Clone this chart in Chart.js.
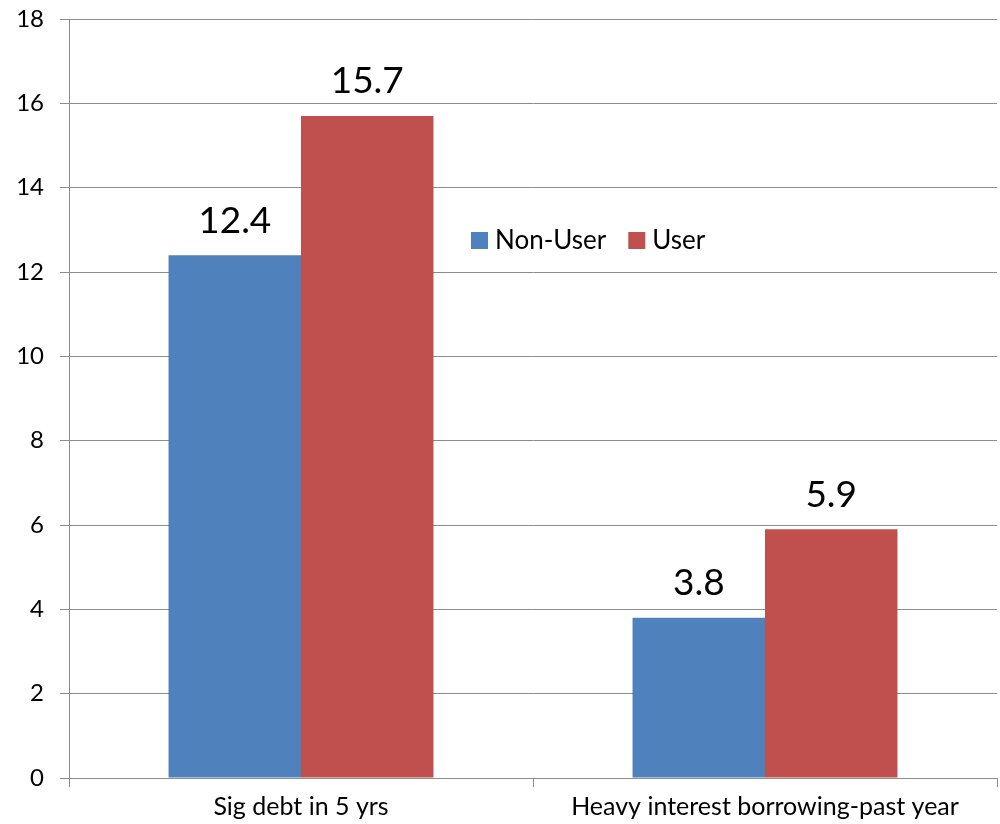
<!DOCTYPE html>
<html>
<head>
<meta charset="utf-8">
<script src="https://cdn.jsdelivr.net/npm/chart.js@4.4.1/dist/chart.umd.min.js"></script>
<style>
  html, body { margin: 0; padding: 0; background: #fff; }
  #wrap { width: 1000px; height: 824px; position: relative; }
</style>
</head>
<body>
<div id="wrap"><canvas id="c" width="1000" height="824"></canvas></div>
<script>
const categories = ['Sig debt in 5 yrs', 'Heavy interest borrowing-past year'];
const seriesNames = ['Non-User', 'User'];
const nonUserValues = [12.4, 3.8];
const userValues = [15.7, 5.9];
const seriesColors = ['#4F81BD', '#C0504D'];

const FONT = 'Lato, "Open Sans", sans-serif';
const GRID = '#8c8c8c';

// Value labels above each bar
const valueLabels = {
  id: 'valueLabels',
  afterDatasetsDraw(chart) {
    const ctx = chart.ctx;
    ctx.save();
    ctx.fillStyle = '#000';
    ctx.font = '37px ' + FONT;
    ctx.textAlign = 'center';
    ctx.textBaseline = 'bottom';
    chart.data.datasets.forEach((ds, i) => {
      chart.getDatasetMeta(i).data.forEach((bar, j) => {
        ctx.fillText(ds.data[j].toFixed(1), bar.x, bar.y - 16);
      });
    });
    ctx.restore();
  }
};

// Legend drawn inside the plot area
const innerLegend = {
  id: 'innerLegend',
  afterDraw(chart) {
    const ctx = chart.ctx;
    const a = chart.chartArea;
    let x = a.left + 402;
    const y = a.top + 221;
    ctx.save();
    ctx.font = '26px ' + FONT;
    ctx.textBaseline = 'middle';
    ctx.textAlign = 'left';
    chart.data.datasets.forEach(ds => {
      ctx.fillStyle = ds.backgroundColor;
      ctx.fillRect(x, y - 8, 17, 17);
      ctx.fillStyle = '#000';
      ctx.fillText(ds.label, x + 24, y + 1);
      x += 24 + ctx.measureText(ds.label).width + 22;
    });
    ctx.restore();
  }
};

new Chart(document.getElementById('c'), {
  type: 'bar',
  data: {
    labels: categories,
    datasets: [
      { label: seriesNames[0], data: nonUserValues, backgroundColor: seriesColors[0] },
      { label: seriesNames[1], data: userValues, backgroundColor: seriesColors[1] }
    ]
  },
  options: {
    responsive: false,
    animation: false,
    devicePixelRatio: 1,
    layout: { padding: { top: 19, right: 3, left: 0, bottom: 0 } },
    datasets: { bar: { barPercentage: 1.0, categoryPercentage: 0.571 } },
    plugins: { legend: { display: false }, tooltip: { enabled: false } },
    scales: {
      x: {
        grid: {
          offset: true,
          drawOnChartArea: false,
          drawTicks: true,
          tickLength: 9,
          color: GRID,
          lineWidth: 1
        },
        border: { color: GRID, width: 1 },
        ticks: { color: '#000', font: { family: FONT, size: 25 }, padding: 5, maxRotation: 0 },
        afterFit(s) { s.height = 46; }
      },
      y: {
        min: 0,
        max: 18,
        ticks: { stepSize: 2, color: '#000', font: { family: FONT, size: 24, lineHeight: 1 }, padding: 16 },
        grid: { color: GRID, lineWidth: 1, tickLength: 9 },
        border: { color: GRID, width: 1 },
        afterFit(s) { s.width = 69; s.paddingTop = 0; s.paddingBottom = 0; }
      }
    }
  },
  plugins: [valueLabels, innerLegend]
});
</script>
</body>
</html>
